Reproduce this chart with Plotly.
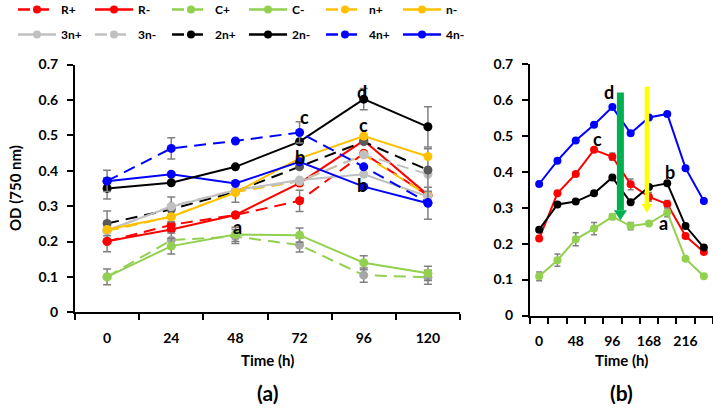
import plotly.graph_objects as go

# ---------------- data ----------------
times_a = [0, 24, 48, 72, 96, 120]
R_plus_a = [0.200, 0.247, 0.275, 0.315, 0.449, 0.330]
R_minus_a = [0.201, 0.234, 0.275, 0.365, 0.485, 0.331]
C_plus_a = [0.100, 0.204, 0.214, 0.190, 0.105, 0.099]
C_minus_a = [0.100, 0.187, 0.220, 0.218, 0.140, 0.110]
n_plus_a = [0.230, 0.270, 0.340, 0.370, 0.445, 0.330]
n_minus_a = [0.234, 0.270, 0.338, 0.435, 0.498, 0.440]
n3_plus_a = [0.232, 0.298, 0.345, 0.374, 0.390, 0.327]
n3_minus_a = [0.230, 0.300, 0.345, 0.370, 0.445, 0.390]
n2_plus_a = [0.251, 0.291, 0.341, 0.411, 0.482, 0.402]
n2_minus_a = [0.350, 0.366, 0.411, 0.482, 0.602, 0.524]
n4_plus_a = [0.371, 0.463, 0.484, 0.508, 0.411, 0.310]
n4_minus_a = [0.370, 0.390, 0.364, 0.425, 0.355, 0.308]

err_R_plus_a = [0.0, 0.0, 0.0, 0.030, 0.0, 0.0]
err_R_minus_a = [0.030, 0.0, 0.0, 0.0, 0.0, 0.0]
err_C_plus_a = [0.0, 0.020, 0.020, 0.020, 0.020, 0.020]
err_C_minus_a = [0.022, 0.022, 0.020, 0.020, 0.020, 0.020]
err_n2_plus_a = [0.035, 0.035, 0.030, 0.0, 0.0, 0.060]
err_n2_minus_a = [0.030, 0.0, 0.0, 0.0, 0.030, 0.057]
err_n4_plus_a = [0.030, 0.030, 0.0, 0.030, 0.0, 0.0]
err_n4_minus_a = [0.0, 0.0, 0.0, 0.0, 0.0, 0.045]

times_b = [0, 24, 48, 72, 96, 120, 168, 192, 216, 240]
red_b = [0.214, 0.340, 0.394, 0.461, 0.442, 0.365, 0.330, 0.310, 0.221, 0.177]
black_b = [0.239, 0.309, 0.317, 0.340, 0.384, 0.315, 0.358, 0.368, 0.249, 0.189]
blue_b = [0.366, 0.431, 0.487, 0.531, 0.580, 0.507, 0.551, 0.561, 0.410, 0.319]
green_b = [0.109, 0.154, 0.212, 0.242, 0.275, 0.249, 0.256, 0.287, 0.158, 0.109]
err_red_b = [0.0, 0.0, 0.0, 0.0, 0.010, 0.015, 0.012, 0.010, 0.0, 0.0]
err_green_b = [0.012, 0.017, 0.018, 0.017, 0.008, 0.010, 0.0, 0.012, 0.0, 0.0]

legend_names = ["R+", "R-", "C+", "C-", "n+", "n-", "3n+", "3n-", "2n+", "2n-", "4n+", "4n-"]

# ---------------- styles ----------------
RED = "#ff0000"
GREEN = "#92d050"
ORANGE = "#ffc000"
LGRAY = "#c0c0c0"
BLACK = "#000000"
BLUE = "#0000ff"
ERR = "#808080"
DASH = "12px,7px"
FONT = "Lato, 'Open Sans', sans-serif"

styles = {
    "R+": (RED, DASH, RED), "R-": (RED, "solid", RED),
    "C+": (GREEN, DASH, GREEN), "C-": (GREEN, "solid", GREEN),
    "n+": (ORANGE, DASH, ORANGE), "n-": (ORANGE, "solid", ORANGE),
    "3n+": (LGRAY, "solid", LGRAY), "3n-": (LGRAY, DASH, LGRAY),
    "2n+": (BLACK, DASH, BLACK), "2n-": (BLACK, "solid", BLACK),
    "4n+": (BLUE, DASH, BLUE), "4n-": (BLUE, "solid", BLUE),
}

fig = go.Figure()

idx_a = list(range(len(times_a)))
idx_b = list(range(len(times_b)))


def add_a(y, color, dash, mcolor, err=None):
    kw = {}
    if err is not None:
        kw["error_y"] = dict(type="data", array=err, visible=True, color=ERR,
                             thickness=1.5, width=4)
    fig.add_trace(go.Scatter(
        x=idx_a, y=y, mode="lines+markers", showlegend=False,
        line=dict(color=color, width=2, dash=dash),
        marker=dict(color=mcolor, size=9), xaxis="x", yaxis="y", **kw))


add_a(R_plus_a, RED, DASH, RED, err_R_plus_a)
add_a(R_minus_a, RED, "solid", RED, err_R_minus_a)
add_a(C_plus_a, GREEN, DASH, "#a6a6a6", err_C_plus_a)
add_a(C_minus_a, GREEN, "solid", GREEN, err_C_minus_a)
add_a(n_plus_a, ORANGE, DASH, ORANGE)
add_a(n3_minus_a, LGRAY, DASH, LGRAY)
add_a(n2_plus_a, BLACK, DASH, "#595959", err_n2_plus_a)
add_a(n3_plus_a, LGRAY, "solid", LGRAY)
add_a(n_minus_a, ORANGE, "solid", ORANGE)
add_a(n4_minus_a, BLUE, "solid", BLUE, err_n4_minus_a)
add_a(n2_minus_a, BLACK, "solid", BLACK, err_n2_minus_a)
add_a(n4_plus_a, BLUE, DASH, BLUE, err_n4_plus_a)


def add_b(y, color, err=None):
    kw = {}
    if err is not None:
        kw["error_y"] = dict(type="data", array=err, visible=True, color=ERR,
                             thickness=1.5, width=3)
    fig.add_trace(go.Scatter(
        x=idx_b, y=y, mode="lines+markers", showlegend=False,
        line=dict(color=color, width=2),
        marker=dict(color=color, size=8), xaxis="x2", yaxis="y2", **kw))


add_b(blue_b, BLUE)
add_b(red_b, RED, err_red_b)
add_b(black_b, BLACK)
add_b(green_b, GREEN, err_green_b)

# legend-only traces
for i, name in enumerate(legend_names):
    c, d, m = styles[name]
    fig.add_trace(go.Scatter(
        x=[None], y=[None], mode="lines+markers", name=name,
        line=dict(color=c, width=2.5, dash=d), marker=dict(color=m, size=8),
        legend="legend" if i < 6 else "legend2"))

W, H = 713, 416
axfont = dict(family=FONT, size=14, color="black", weight="bold")
legfont = dict(family=FONT, size=12, color="black", weight="bold")

fig.update_layout(
    width=W, height=H, margin=dict(l=0, r=0, t=0, b=0, autoexpand=False),
    paper_bgcolor="white", plot_bgcolor="white",
    font=dict(family=FONT, color="black"),
    xaxis=dict(domain=[75 / W, 460 / W], range=[-0.5, len(times_a) - 0.5],
               tickmode="array", tickvals=idx_a, ticktext=[str(t) for t in times_a],
               ticks="", showline=True, linecolor="black", linewidth=2,
               showgrid=False, zeroline=False, tickfont=axfont, ticklabelstandoff=12,
               minor=dict(tickmode="linear", tick0=-0.5, dtick=1, ticks="outside",
                          ticklen=6, tickwidth=2, tickcolor="black", showgrid=False)),
    yaxis=dict(domain=[(H - 312.3) / H, (H - 64.5) / H], range=[0, 0.7], dtick=0.1,
               ticks="outside", ticklen=6, tickwidth=2, tickcolor="black",
               showline=True, linecolor="black", linewidth=2, showgrid=False,
               zeroline=False, tickfont=axfont, ticklabelstandoff=6),
    xaxis2=dict(domain=[530 / W, 1.0], range=[-0.5, len(times_b) - 0.5],
                tickmode="array", tickvals=idx_b[::2],
                ticktext=[str(t) for t in times_b[::2]],
                ticks="", showline=True, linecolor="black", linewidth=2,
                showgrid=False, zeroline=False, tickfont=axfont, ticklabelstandoff=12,
                anchor="y2",
                minor=dict(tickmode="linear", tick0=-0.5, dtick=1, ticks="outside",
                           ticklen=6, tickwidth=2, tickcolor="black", showgrid=False)),
    yaxis2=dict(domain=[(H - 315.5) / H, (H - 64) / H], range=[0, 0.7], dtick=0.1,
                anchor="x2", ticks="outside", ticklen=6, tickwidth=2, tickcolor="black",
                showline=True, linecolor="black", linewidth=2, showgrid=False,
                zeroline=False, tickfont=axfont, ticklabelstandoff=6),
    legend=dict(orientation="h", x=13 / W, y=1 + 5 / H, xanchor="left", yanchor="top",
                entrywidth=24, entrywidthmode="pixels", itemwidth=38,
                bgcolor="rgba(0,0,0,0)", font=legfont, tracegroupgap=0),
    legend2=dict(orientation="h", x=13 / W, y=1 - 20 / H, xanchor="left", yanchor="top",
                 entrywidth=24, entrywidthmode="pixels", itemwidth=38,
                 bgcolor="rgba(0,0,0,0)", font=legfont, tracegroupgap=0),
)

lab = dict(family=FONT, size=18, color="black", weight="bold")
ann = []
# letters in panel a
for x, y, t in [(3.08, 0.553, "c"), (3.0, 0.439, "b"), (3.97, 0.623, "d"),
                (4.0, 0.529, "c"), (3.97, 0.36, "b"), (2.04, 0.242, "a")]:
    ann.append(dict(x=x, y=y, xref="x", yref="y", text=t, showarrow=False, font=lab,
                    xanchor="center", yanchor="middle"))
# letters in panel b
for x, y, t in [(3.2, 0.49, "c"), (3.79, 0.621, "d"), (7.16, 0.40, "b"), (6.8, 0.258, "a")]:
    ann.append(dict(x=x, y=y, xref="x2", yref="y2", text=t, showarrow=False, font=lab,
                    xanchor="center", yanchor="middle"))
# axis titles and panel labels
tfont = dict(family=FONT, size=15, color="black", weight="bold")
pfont = dict(family=FONT, size=21, color="black", weight="bold")
for x, y, t, f, ang in [(267.5, 360, "Time (h)", tfont, 0), (621, 360, "Time (h)", tfont, 0),
                        (15, 188, "OD (750 nm)", tfont, -90),
                        (267.5, 392, "(a)", pfont, 0), (621, 392, "(b)", pfont, 0)]:
    ann.append(dict(x=x / W, y=(H - y) / H, xref="paper", yref="paper", text=t,
                    textangle=ang, showarrow=False, font=f,
                    xanchor="center", yanchor="middle"))
fig.update_layout(annotations=ann)

# arrows in panel b
shapes = []
gx, gtop, gbase, gtip = 4.44, 0.621, 0.293, 0.265
shapes.append(dict(type="line", xref="x2", yref="y2", x0=gx, x1=gx, y0=gtop, y1=gbase,
                   line=dict(color="#00b050", width=7)))
shapes.append(dict(type="path", xref="x2", yref="y2",
                   path=f"M {gx-0.36},{gbase} L {gx+0.36},{gbase} L {gx},{gtip} Z",
                   fillcolor="#00b050", line=dict(width=0)))
yx, ytop, ybase, ytip = 5.89, 0.637, 0.31, 0.285
shapes.append(dict(type="line", xref="x2", yref="y2", x0=yx, x1=yx, y0=ytop, y1=ybase,
                   line=dict(color="#ffff00", width=4.5)))
shapes.append(dict(type="path", xref="x2", yref="y2",
                   path=f"M {yx-0.28},{ybase} L {yx+0.28},{ybase} L {yx},{ytip} Z",
                   fillcolor="#ffff00", line=dict(width=0)))
fig.update_layout(shapes=shapes)

fig.write_html("out.html", config={"displayModeBar": False},
               post_script="document.body.style.margin='0px';")
